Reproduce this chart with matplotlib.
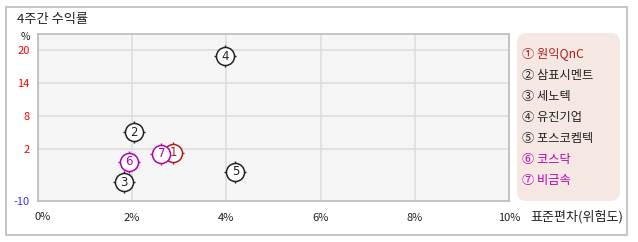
import matplotlib
matplotlib.use("Agg")
import matplotlib.pyplot as plt
from matplotlib.patches import FancyBboxPatch, Rectangle

plt.rcParams['font.family'] = ['Noto Sans CJK KR', 'DejaVu Sans']

names = ['원익QnC', '삼표시멘트', '세노텍', '유진기업', '포스코켐텍', '코스닥', '비금속']
circled = ['①', '②', '③', '④', '⑤', '⑥', '⑦']
numbers = ['1', '2', '3', '4', '5', '6', '7']
risk = [2.87, 2.03, 1.82, 3.98, 4.19, 1.94, 2.62]
ret = [1.3, 5.0, -4.05, 18.9, -2.1, -0.3, 1.15]
colors = ['#b01c1c', '#222222', '#222222', '#222222', '#222222', '#b000b0', '#b000b0']

x_ticks = [0, 2, 4, 6, 8, 10]
x_labels = ['0%', '2%', '4%', '6%', '8%', '10%']
y_ticks = [2, 8, 14, 20]
y_labels = ['2', '8', '14', '20']
y_bottom_label = '-10'

W, H = 638, 242
fig = plt.figure(figsize=(W / 100, H / 100), dpi=100)
fig.patch.set_facecolor('white')

# outer border
fig.patches.append(Rectangle((6 / W, 1 - 235 / H), (627 - 6) / W, (235 - 7) / H,
                             transform=fig.transFigure, fill=False,
                             edgecolor='#bbbbbb', linewidth=1.2))

ax_l, ax_r, ax_t, ax_b = 38, 509, 34, 201
ax = fig.add_axes([ax_l / W, 1 - ax_b / H, (ax_r - ax_l) / W, (ax_b - ax_t) / H])
ax.set_facecolor('#f5f5f5')
ylo, yhi = -7.45, 22.9
ax.set_xlim(0, 10)
ax.set_ylim(ylo, yhi)
for s in ax.spines.values():
    s.set_color('#bbbbbb')
    s.set_linewidth(1.2)
ax.set_xticks(x_ticks)
ax.set_xticklabels([''] + x_labels[1:], fontsize=8, color='#222222')
ax.annotate(x_labels[0], xy=(x_ticks[0], 0), xycoords=ax.get_xaxis_transform(),
            xytext=(5, -16), textcoords='offset pixels', ha='center', va='center',
            fontsize=8, color='#222222')
ax.set_yticks([ylo] + y_ticks)
ax.set_yticklabels([y_bottom_label] + y_labels, fontsize=8)
for lab in ax.get_yticklabels():
    lab.set_color('red')
ax.get_yticklabels()[0].set_color('#3333ff')
ax.tick_params(length=0)
ax.tick_params(axis='x', pad=8.5)
ax.tick_params(axis='y', pad=6)
ax.grid(True, color='#dddddd', linewidth=1.2)
ax.set_axisbelow(True)

for xi, yi, c, n in zip(risk, ret, colors, numbers):
    ax.plot(xi, yi, marker='+', markersize=16, color=c, markeredgewidth=1.0, zorder=3)
    ax.plot(xi, yi, marker='o', markersize=13, markerfacecolor='white',
            markeredgecolor=c, markeredgewidth=1.1, zorder=4)
    ax.text(xi, yi, n, ha='center', va='center', fontsize=8.5, color=c, zorder=5,
            family='DejaVu Sans')

# texts
fig.text(17 / W, 1 - 19 / H, '4주간 수익률', fontsize=9.5, ha='left', va='center', color='#222222')
fig.text(25 / W, 1 - 37 / H, '%', fontsize=7.5, ha='center', va='center', color='#222222')
fig.text(530 / W, 1 - 217 / H, '표준편차(위험도)', fontsize=9.4, ha='left', va='center', color='#222222')

# legend box
lx0, lx1, ly0, ly1 = 517, 620, 33, 201
fig.patches.append(FancyBboxPatch((lx0 / W, 1 - ly1 / H), (lx1 - lx0) / W, (ly1 - ly0) / H,
                                  boxstyle='round,pad=0,rounding_size=0.015',
                                  transform=fig.transFigure, facecolor='#f5e8e2',
                                  edgecolor='none', mutation_aspect=W / H))
for i, (cn, nm, c) in enumerate(zip(circled, names, colors)):
    y = 54 + i * 21.1
    fig.text(522 / W, 1 - y / H, cn + ' ' + nm, fontsize=8.8, ha='left', va='center', color=c)

fig.savefig('out.png', dpi=100, facecolor='white')
